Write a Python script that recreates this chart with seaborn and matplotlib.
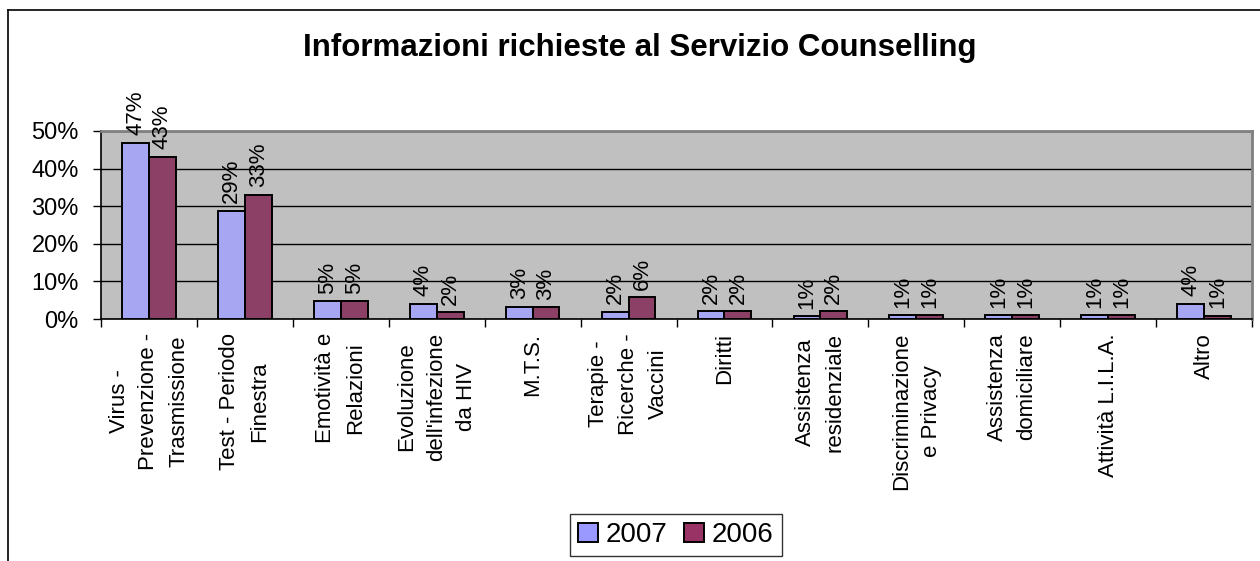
import matplotlib
matplotlib.use("Agg")
import matplotlib.pyplot as plt
import pandas as pd
import seaborn as sns
from matplotlib.lines import Line2D
from matplotlib.ticker import FixedLocator, FuncFormatter

CATEGORIE = [
    "Virus -\nPrevenzione -\nTrasmissione",
    "Test - Periodo\nFinestra",
    "Emotività e\nRelazioni",
    "Evoluzione\ndell'infezione\nda HIV",
    "M.T.S.",
    "Terapie -\nRicerche -\nVaccini",
    "Diritti",
    "Assistenza\nresidenziale",
    "Discriminazione\ne Privacy",
    "Assistenza\ndomiciliare",
    "Attività L.I.L.A.",
    "Altro",
]
ANNI = ["2007", "2006"]
# percentuali
VALORI_2007 = [46.9, 28.8, 4.7, 4.1, 3.2, 1.9, 2.0, 0.7, 1.0, 1.0, 1.0, 4.1]
VALORI_2006 = [43.1, 33.1, 4.7, 1.8, 3.1, 5.8, 2.0, 2.0, 1.0, 1.0, 1.0, 0.9]
Y_TICKS = [0, 10, 20, 30, 40, 50]
COLORI = {"2007": "#9999FF", "2006": "#993366"}
TITOLO = "Informazioni richieste al Servizio Counselling"

df = pd.DataFrame({
    "categoria": CATEGORIE * 2,
    "valore": VALORI_2007 + VALORI_2006,
    "anno": ["2007"] * len(CATEGORIE) + ["2006"] * len(CATEGORIE),
})

plt.rcParams["font.family"] = ["Liberation Sans", "DejaVu Sans"]

W, H = 1260, 561
fig = plt.figure(figsize=(W / 100, H / 100), dpi=100)
ax = fig.add_axes([101 / W, 1 - 319 / H, 1151 / W, 188 / H])
ax.set_facecolor("#C0C0C0")

sns.barplot(data=df, x="categoria", y="valore", hue="anno", hue_order=ANNI,
            order=CATEGORIE, palette=COLORI, width=0.56, edgecolor="black",
            linewidth=1.4, legend=False, ax=ax, zorder=3)

for cont, anno in zip(ax.containers, ANNI):
    vals = df.loc[df["anno"] == anno, "valore"]
    ax.bar_label(cont, labels=[f"{round(v)}%" for v in vals], rotation=90,
                 padding=5.5, fontsize=16)

ax.set_ylim(0, 50)
ax.set_xlim(-0.5, len(CATEGORIE) - 0.5)
ax.yaxis.set_major_locator(FixedLocator(Y_TICKS))
ax.yaxis.set_major_formatter(FuncFormatter(lambda v, p: f"{v:.0f}%"))
ax.grid(axis="y", color="black", linewidth=1, zorder=1)
ax.set_axisbelow(True)
ax.tick_params(axis="y", length=6, width=1, pad=10, labelsize=17)

ax.set_xticks(range(len(CATEGORIE)))
ax.set_xticklabels(CATEGORIE, rotation=90, fontsize=16, ha="center", va="top",
                   linespacing=1.55, multialignment="center")
ax.set_xticks([i - 0.5 for i in range(len(CATEGORIE) + 1)], minor=True)
ax.tick_params(axis="x", which="major", length=0, pad=10)
ax.tick_params(axis="x", which="minor", length=6, width=1)
ax.set_xlabel("")
ax.set_ylabel("")

for s in ["left", "bottom"]:
    ax.spines[s].set_color("black")
    ax.spines[s].set_linewidth(1.2)
for s in ["top", "right"]:
    ax.spines[s].set_color("#808080")
    ax.spines[s].set_linewidth(2)

fig.text(640 / W, 1 - 48 / H, TITOLO, ha="center", va="center",
         fontsize=22.5, fontweight="bold")

handles = [plt.Rectangle((0, 0), 1, 1, facecolor=COLORI[a], edgecolor="black",
                         linewidth=1.4) for a in ANNI]
leg = fig.legend(handles, ANNI, loc="center", bbox_to_anchor=(676 / W, 1 - 535 / H),
                 ncol=2, fontsize=20, frameon=True, fancybox=False,
                 edgecolor="black", handlelength=0.7, handleheight=0.7,
                 handletextpad=0.3, columnspacing=0.6, borderpad=0.3,
                 borderaxespad=0)
leg.get_frame().set_linewidth(1)

# bordo esterno del grafico (solo alto e sinistra visibili)
fig.add_artist(Line2D([8 / W, 1], [1 - 10 / H, 1 - 10 / H], color="black", linewidth=1.2))
fig.add_artist(Line2D([8 / W, 8 / W], [0, 1 - 10 / H], color="black", linewidth=1.2))

fig.savefig("out.png", dpi=100)
